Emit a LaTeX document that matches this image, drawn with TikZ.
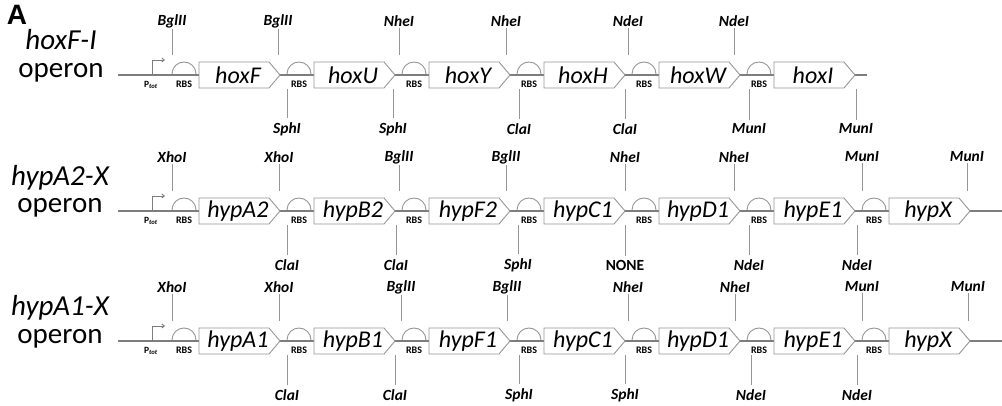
\documentclass[tikz,border=0pt]{standalone}
\usepackage{fontspec}
\setmainfont{Carlito}
\newfontfamily\arialfont{Liberation Sans}
\usetikzlibrary{arrows.meta}
\definecolor{lg}{RGB}{150,150,150}
\definecolor{bbc}{RGB}{125,125,125}

\newcommand\operonrow[6]{%
  % #1 id, #2 backbone y, #3 gene list, #4 end x, #5 top sites, #6 bottom sites
  \coordinate (bs#1) at (118,#2);
  \coordinate (be#1) at (#4,#2);
  \draw[backbone] (bs#1) -- (be#1);
  % promoter
  \coordinate (p#1) at (152,#2);
  \coordinate (pe#1) at (165,#2-15);
  \draw[promo] (p#1) |- (pe#1);
  \node[ptot] (pt#1) at (151,#2+10) {P\textsubscript{\textit{tot}}};
  % genes and RBS
  \foreach \g [count=\k from 0] in {#3} {
    \pgfmathsetmacro\s{199+115*\k}
    \pgfmathsetmacro\c{\s-15}
    \draw[rbsarc] (\c-12,#2-1) arc (180:360:12);
    \node[rbstext] (r#1-\k) at (\c,#2+9) {RBS};
    \draw[genebox] (\s,#2-13) -- (\s+70,#2-13) -- (\s+81,#2) -- (\s+70,#2+13) -- (\s,#2+13) -- cycle;
    \node[genetext] (g#1-\k) at (\s+39,#2) {\g};
  }
  % restriction sites
  \foreach \x/\t [count=\i] in {#5} {
    \node[sitetext] (t#1-\i) at (\x,#2-54) {\t};
    \coordinate (te#1-\i) at (\x,#2-20);
    \draw[siteline] (t#1-\i) -- (te#1-\i);
  }
  \foreach \x/\t [count=\i] in {#6} {
    \node[sitetext] (b#1-\i) at (\x,#2+54) {\t};
    \coordinate (bt#1-\i) at (\x,#2+14);
    \draw[siteline, shorten <=3pt] (b#1-\i) -- (bt#1-\i);
  }
}

\begin{document}
\begin{tikzpicture}[x=1pt,y=-1pt,
  backbone/.style={draw=bbc, line width=1.1pt},
  promo/.style={draw=bbc, line width=0.9pt, -{Straight Barb[length=2.5pt,width=4pt]}},
  genebox/.style={draw=lg, fill=white, line width=0.9pt},
  genetext/.style={font=\fontsize{24}{24}\selectfont\itshape, inner sep=0pt},
  rbsarc/.style={draw=lg, line width=0.9pt},
  rbstext/.style={font=\fontsize{10}{10}\selectfont\bfseries, inner sep=0pt},
  ptot/.style={font=\fontsize{9.5}{10}\selectfont\bfseries, inner sep=0pt},
  sitetext/.style={font=\fontsize{15.5}{16}\selectfont\bfseries\itshape, inner sep=1pt},
  siteline/.style={draw=lg, line width=0.8pt},
  opname/.style={font=\fontsize{29}{29}\selectfont\itshape, inner sep=0pt, anchor=base},
  optext/.style={font=\fontsize{29}{29}\selectfont, inner sep=0pt, anchor=base},
]
\useasboundingbox (0,0) rectangle (1002,406);
\node[font=\arialfont\bfseries\fontsize{28}{28}\selectfont, inner sep=0pt] (A) at (17,15) {A};

\node[opname] (n1) at (61,50) {hoxF-I};
\node[optext] (o1) at (61,78) {operon};
\operonrow{1}{75}{hoxF,hoxU,hoxY,hoxH,hoxW,hoxI}{867}
  {172/BglII,278/BglII,399/NheI,506/NheI,628/NdeI,734/NdeI}
  {287/SphI,393/SphI,519/ClaI,625/ClaI,749/MunI,856/MunI}

\node[opname] (n2) at (60,186) {hypA2-X};
\node[optext] (o2) at (60,213) {operon};
\operonrow{2}{211}{hypA2,hypB2,hypF2,hypC1,hypD1,hypE1,hypX}{1002}
  {172/XhoI,279/XhoI,399/BglII,506/BglII,625/NheI,734/NheI,862/MunI,967/MunI}
  {287/ClaI,396/ClaI,518/SphI,625/{\textup{NONE}},749/NdeI,857/NdeI}

\node[opname] (n3) at (60,316) {hypA1-X};
\node[optext] (o3) at (60,343) {operon};
\operonrow{3}{341}{hypA1,hypB1,hypF1,hypC1,hypD1,hypE1,hypX}{1002}
  {172/XhoI,279/XhoI,401/BglII,507/BglII,628/NheI,735/NheI,862/MunI,968/MunI}
  {287/ClaI,395/ClaI,519/SphI,625/SphI,751/NdeI,857/NdeI}
\end{tikzpicture}
\end{document}
